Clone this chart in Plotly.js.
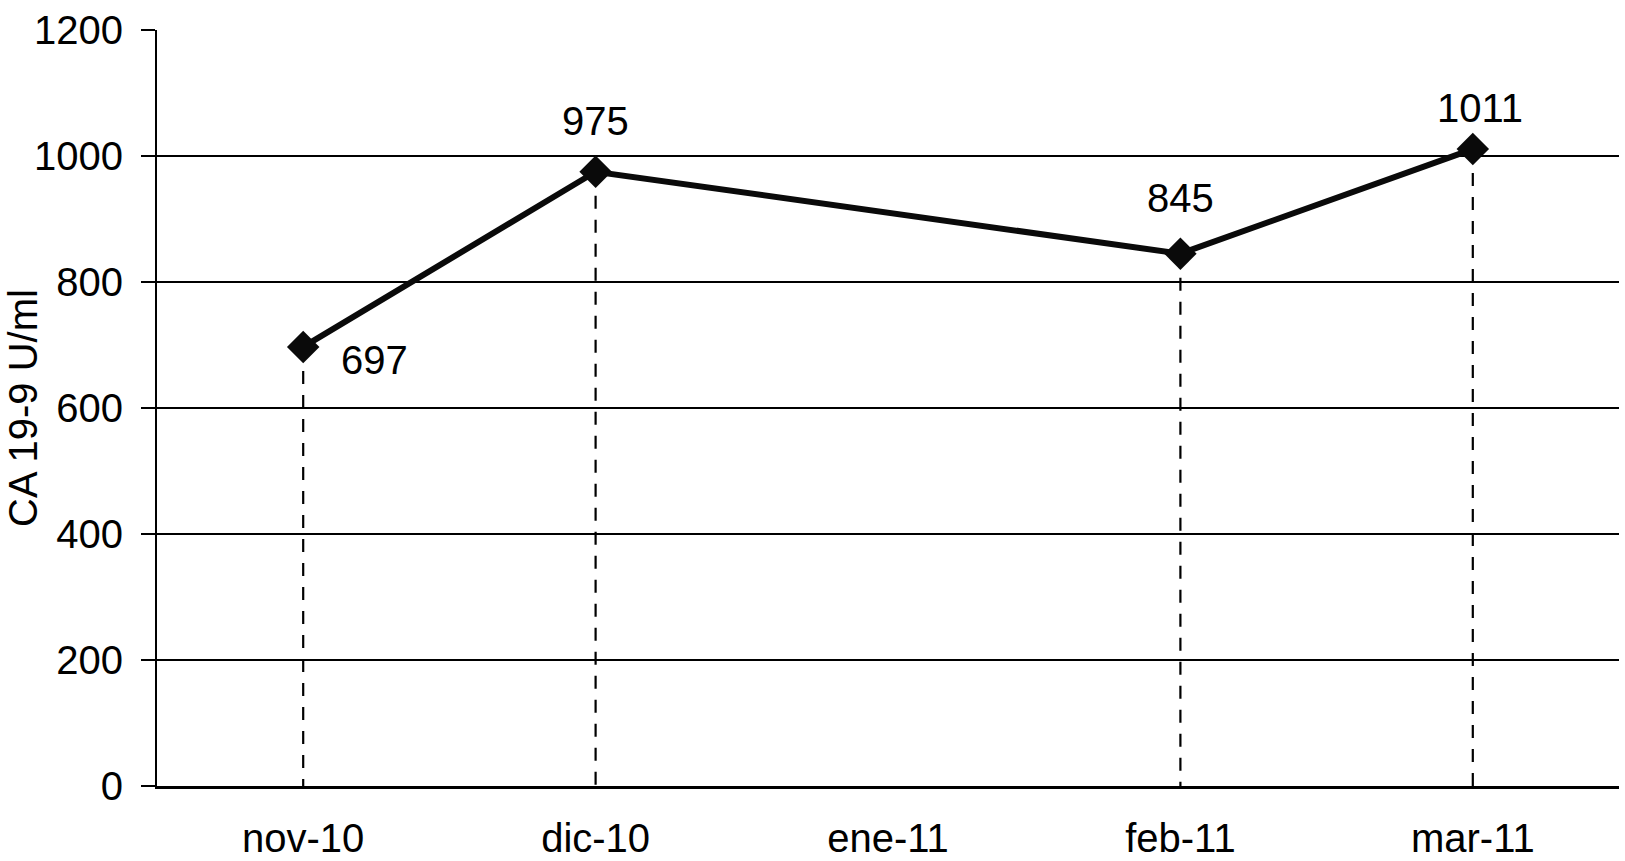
<!DOCTYPE html>
<html>
<head>
<meta charset="utf-8">
<script src="https://cdn.plot.ly/plotly-3.0.1.min.js"></script>
<style>
  html, body { margin: 0; padding: 0; background: #ffffff; }
  #chart { width: 1625px; height: 861px; }
</style>
</head>
<body>
<div id="chart"></div>
<script>
// ---- Data ----
const categories = ["nov-10", "dic-10", "ene-11", "feb-11", "mar-11"];
const values = [697, 975, null, 845, 1011];
const yTickValues = [0, 200, 400, 600, 800, 1000, 1200];
const yTitle = "CA 19-9 U/ml";

// ---- Style (label offsets in px, not data) ----
const labelShiftX = [71, 0, 0, 0, 7];
const labelShiftY = [-13, 51, 0, 56, 41];

const FONT = "Liberation Sans, Arial, Helvetica, sans-serif";
const FS = 40;

const traces = [];

// Dashed drop lines from each point down to zero
categories.forEach((c, i) => {
  if (values[i] === null) return;
  traces.push({
    type: "scatter",
    mode: "lines",
    x: [c, c],
    y: [values[i], 0],
    line: { color: "#000000", width: 2.2, dash: "13px,11px" },
    hoverinfo: "skip",
    showlegend: false
  });
});

// Main series
traces.push({
  type: "scatter",
  mode: "lines+markers",
  x: categories,
  y: values,
  connectgaps: true,
  line: { color: "#0a0a0a", width: 6 },
  marker: { symbol: "diamond", size: 25, color: "#0a0a0a" },
  showlegend: false
});

// Data labels
const annotations = [];
categories.forEach((c, i) => {
  if (values[i] === null) return;
  annotations.push({
    x: c, y: values[i], xref: "x", yref: "y",
    text: String(values[i]),
    showarrow: false,
    xanchor: "center", yanchor: "middle",
    xshift: labelShiftX[i], yshift: labelShiftY[i],
    font: { family: FONT, size: FS, color: "#000000" }
  });
});

// Y axis title
annotations.push({
  xref: "paper", yref: "paper", x: 0, y: 0.5,
  xanchor: "center", yanchor: "middle",
  xshift: -134,
  textangle: -90,
  text: yTitle,
  showarrow: false,
  font: { family: FONT, size: FS, color: "#000000" }
});

const layout = {
  width: 1625, height: 861,
  margin: { l: 157, r: 6, t: 30, b: 75 },
  paper_bgcolor: "#ffffff",
  plot_bgcolor: "#ffffff",
  font: { family: FONT, size: FS, color: "#000000" },
  showlegend: false,
  xaxis: {
    type: "category",
    categoryorder: "array",
    categoryarray: categories,
    range: [-0.5, categories.length - 0.5],
    showgrid: false,
    zeroline: false,
    showline: true,
    linecolor: "#000000",
    linewidth: 2.5,
    ticks: "",
    ticklabelstandoff: 15,
    tickfont: { family: FONT, size: FS, color: "#000000" },
    fixedrange: true
  },
  yaxis: {
    range: [0, 1200],
    tickmode: "array",
    tickvals: yTickValues,
    ticktext: yTickValues.map(String),
    showgrid: true,
    gridcolor: "#000000",
    gridwidth: 2,
    zeroline: false,
    showline: true,
    linecolor: "#000000",
    linewidth: 2,
    ticks: "outside",
    ticklen: 14,
    tickwidth: 2,
    tickcolor: "#000000",
    ticklabelstandoff: 10,
    tickfont: { family: FONT, size: FS, color: "#000000" },
    fixedrange: true
  },
  annotations: annotations
};

Plotly.newPlot("chart", traces, layout, { displayModeBar: false, staticPlot: true });
</script>
</body>
</html>
